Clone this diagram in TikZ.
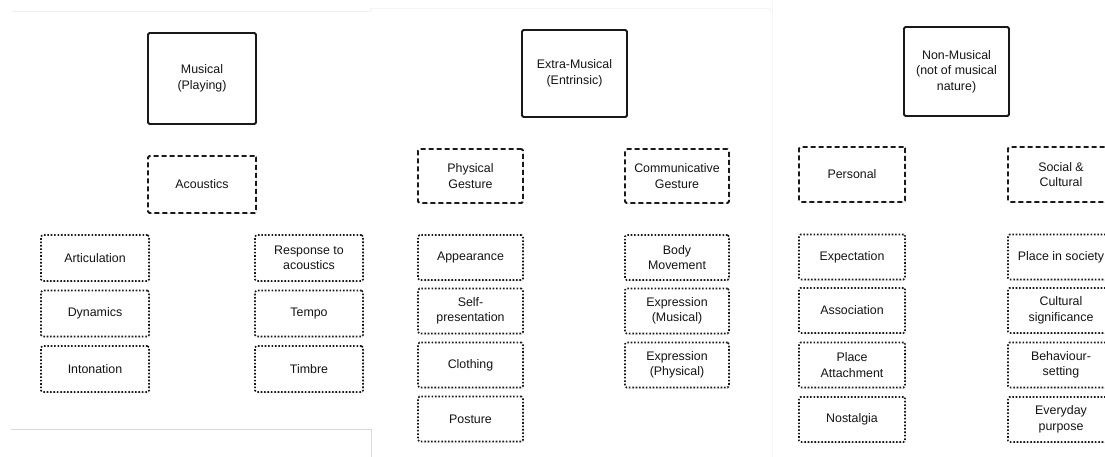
\documentclass[tikz,border=0pt]{standalone}
\usepackage{fontspec}
\setmainfont{Liberation Sans}
\usetikzlibrary{shadows}
\begin{document}
\begin{tikzpicture}[x=1pt,y=-1pt,
  basebox/.style={fill=white, rounded corners=1.5pt, align=center, inner sep=0pt,
    text=black!92, font=\fontsize{12.4}{15.5}\selectfont,
    drop shadow={opacity=0.2, shadow xshift=1pt, shadow yshift=-1pt}},
  solidbox/.style={basebox, draw=black!90, line width=1.9pt},
  dashbox/.style={basebox, draw=black!90, line width=1.8pt, dash pattern=on 5pt off 3pt},
  dotbox/.style={basebox, draw=black!90, line width=1.7pt, dash pattern=on 1.6pt off 1.8pt},
  frameline/.style={line width=0.8pt}]
\useasboundingbox (0,0) rectangle (1105,457);
\clip (0,0) rectangle (1105,457);
% faint panel edges
\draw[frameline, black!5] (11,11) -- (370,11) -- (370,8);
\draw[frameline, black!4] (371,8) -- (770,8) -- (770,12);
\draw[frameline, black!4] (772,0) -- (772,457);
\draw[frameline, black!15] (11,429) -- (371,429) -- (371,457);
% Panel 1: Musical
\node[solidbox, minimum width=108, minimum height=91] (m) at (202,78.5) {Musical\\(Playing)};
\node[dashbox, minimum width=108, minimum height=57] (mAc) at (202,184.5) {Acoustics};
\node[dotbox, minimum width=108, minimum height=46] (mArt) at (95,258) {Articulation};
\node[dotbox, minimum width=108, minimum height=46] (mDyn) at (95,313.5) {Dynamics};
\node[dotbox, minimum width=108, minimum height=46] (mInt) at (95,369) {Intonation};
\node[dotbox, minimum width=108, minimum height=46] (mResp) at (309,258) {Response to\\acoustics};
\node[dotbox, minimum width=108, minimum height=46] (mTempo) at (309,313.5) {Tempo};
\node[dotbox, minimum width=108, minimum height=46] (mTimbre) at (309,369) {Timbre};
% Panel 2: Extra-Musical
\node[solidbox, minimum width=105, minimum height=87] (e) at (574.5,73.5) {Extra-Musical\\(Entrinsic)};
\node[dashbox, minimum width=105, minimum height=54] (ePG) at (470.5,176) {Physical\\Gesture};
\node[dashbox, minimum width=104, minimum height=54] (eCG) at (677,176) {Communicative\\Gesture};
\node[dotbox, minimum width=105, minimum height=45] (eApp) at (470.5,257.5) {Appearance};
\node[dotbox, minimum width=105, minimum height=45] (eSelf) at (470.5,311) {Self-\\presentation};
\node[dotbox, minimum width=105, minimum height=45] (eCloth) at (470.5,365) {Clothing};
\node[dotbox, minimum width=105, minimum height=45] (ePost) at (470.5,419) {Posture};
\node[dotbox, minimum width=104, minimum height=45] (eBody) at (677,257.5) {Body\\Movement};
\node[dotbox, minimum width=104, minimum height=45] (eExM) at (677,311) {Expression\\(Musical)};
\node[dotbox, minimum width=104, minimum height=45] (eExP) at (677,365) {Expression\\(Physical)};
% Panel 3: Non-Musical
\node[solidbox, minimum width=105, minimum height=89] (n) at (956.5,71.5) {Non-Musical\\(not of musical\\nature)};
\node[dashbox, minimum width=106, minimum height=55] (nPer) at (852,174.5) {Personal};
\node[dashbox, minimum width=106, minimum height=55] (nSoc) at (1061,174.5) {Social \&\\Cultural};
\node[dotbox, minimum width=106, minimum height=45] (nExp) at (852,257) {Expectation};
\node[dotbox, minimum width=106, minimum height=45] (nAss) at (852,310.5) {Association};
\node[dotbox, minimum width=106, minimum height=45] (nPlace) at (852,365) {Place\\Attachment};
\node[dotbox, minimum width=106, minimum height=45] (nNost) at (852,419.5) {Nostalgia};
\node[dotbox, minimum width=106, minimum height=45] (nPlSoc) at (1061,257) {Place in society};
\node[dotbox, minimum width=106, minimum height=45] (nCult) at (1061,310.5) {Cultural\\significance};
\node[dotbox, minimum width=106, minimum height=45] (nBeh) at (1061,365) {Behaviour-\\setting};
\node[dotbox, minimum width=106, minimum height=45] (nEvery) at (1061,419.5) {Everyday\\purpose};
\end{tikzpicture}
\end{document}
